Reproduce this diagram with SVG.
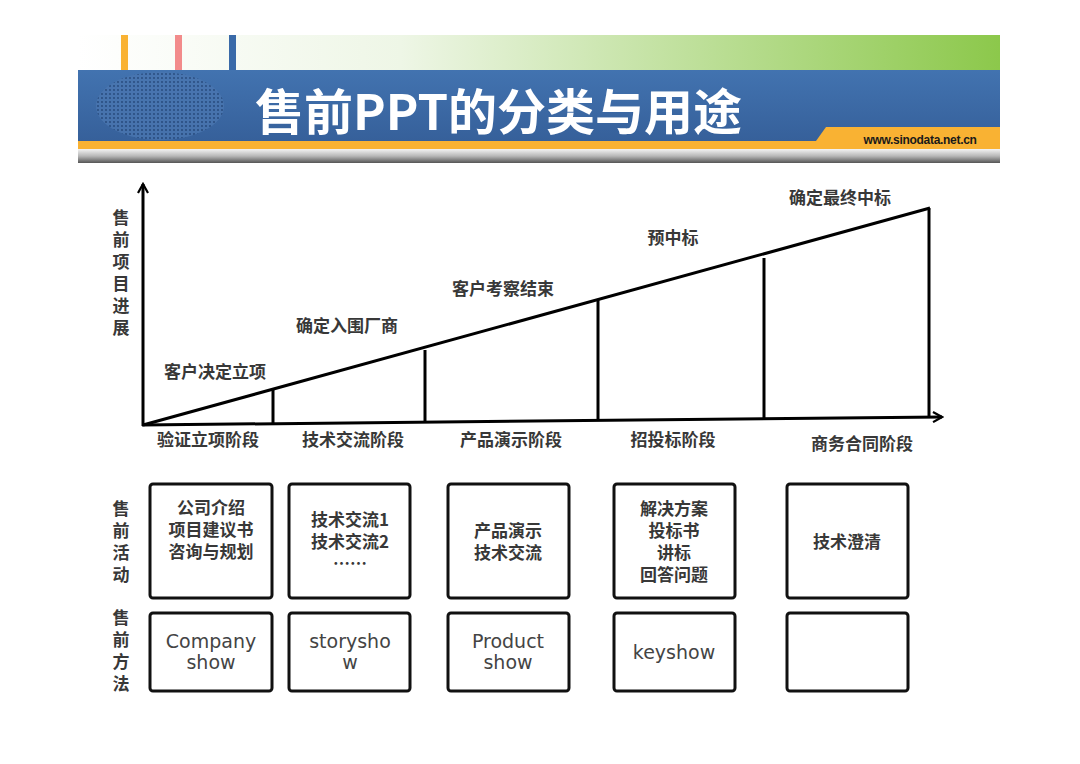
<svg xmlns="http://www.w3.org/2000/svg" width="1080" height="764" viewBox="0 0 1080 764">
<defs>
<linearGradient id="topg" x1="0" y1="0" x2="1" y2="0">
<stop offset="0" stop-color="#ffffff"/>
<stop offset="0.35" stop-color="#eef6e6"/>
<stop offset="1" stop-color="#8cc84b"/>
</linearGradient>
<linearGradient id="blueg" x1="0" y1="0" x2="0" y2="1">
<stop offset="0" stop-color="#4273b0"/>
<stop offset="1" stop-color="#36609a"/>
</linearGradient>
<linearGradient id="grayg" x1="0" y1="0" x2="0" y2="1">
<stop offset="0" stop-color="#f4f4f4"/>
<stop offset="0.5" stop-color="#b8b8b8"/>
<stop offset="1" stop-color="#555555"/>
</linearGradient>
<pattern id="dots" width="4" height="4" patternUnits="userSpaceOnUse">
<rect width="4" height="4" fill="#4a76b0"/>
<circle cx="2" cy="2" r="0.9" fill="#1f3f6e"/>
</pattern>
<marker id="arr" viewBox="0 0 12 12" refX="10" refY="6" markerWidth="12" markerHeight="12" markerUnits="userSpaceOnUse" orient="auto">
<path d="M1,1 L10,6 L1,11" fill="none" stroke="#000" stroke-width="2.2"/>
</marker>
<style>
.cn{font-family:"Noto Sans CJK SC","Noto Sans",sans-serif;font-weight:bold;fill:#383838;font-size:17px;text-anchor:middle}
.vt{font-family:"Noto Sans CJK SC","Noto Sans",sans-serif;font-weight:bold;fill:#383838;font-size:17px;writing-mode:tb;letter-spacing:5px}
.en{font-family:"DejaVu Sans","Noto Sans",sans-serif;fill:#444;font-size:19px;text-anchor:middle}
.box{fill:#fff;stroke:#111;stroke-width:3}
.ln{stroke:#000;stroke-width:3;fill:none}
</style>
</defs>
<rect width="1080" height="764" fill="#fff"/>
<g id="header">
<rect x="78" y="35" width="922" height="35" fill="url(#topg)"/>
<rect x="121" y="35" width="7" height="35" fill="#f9b233"/>
<rect x="175" y="35" width="7" height="35" fill="#f28b8b"/>
<rect x="229" y="35" width="7" height="35" fill="#3a6aa8"/>
<rect x="78" y="70" width="922" height="71" fill="url(#blueg)"/>
<ellipse cx="160" cy="106" rx="64" ry="34" fill="url(#dots)" opacity="0.8"/>
<rect x="78" y="141" width="922" height="8" fill="#f9b233"/>
<polygon points="811,148 826,127 1000,127 1000,148" fill="#f9b233"/>
<rect x="78" y="149" width="922" height="14" fill="url(#grayg)"/>
<text x="255" y="130" font-family="Noto Sans CJK SC,sans-serif" font-size="49" font-weight="bold" fill="#fff">售前PPT的分类与用途</text>
<text x="920" y="144" font-family="Liberation Sans,Arial,sans-serif" font-size="12" font-weight="bold" fill="#1a1a1a" text-anchor="middle" letter-spacing="-0.3">www.sinodata.net.cn</text>
</g>
<g id="connectors">
<line class="ln" x1="143" y1="426" x2="143" y2="184" marker-end="url(#arr)"/>
<line class="ln" x1="142" y1="425" x2="942" y2="417" marker-end="url(#arr)"/>
<line class="ln" x1="143" y1="425" x2="930" y2="208"/>
<line class="ln" x1="273" y1="390" x2="273" y2="424"/>
<line class="ln" x1="425" y1="350" x2="425" y2="423"/>
<line class="ln" x1="598" y1="299" x2="598" y2="419"/>
<line class="ln" x1="764" y1="258" x2="764" y2="418"/>
<line class="ln" x1="929" y1="208" x2="929" y2="418"/>
</g>
<g id="axis-label">
<text class="vt" x="121" y="209">售前项目进展</text>
</g>
<g id="milestones">
<text class="cn" x="215" y="378">客户决定立项</text>
<text class="cn" x="347" y="332">确定入围厂商</text>
<text class="cn" x="503" y="295">客户考察结束</text>
<text class="cn" x="673" y="244">预中标</text>
<text class="cn" x="840" y="204">确定最终中标</text>
</g>
<g id="stages">
<text class="cn" x="208" y="446">验证立项阶段</text>
<text class="cn" x="353" y="446">技术交流阶段</text>
<text class="cn" x="511" y="446">产品演示阶段</text>
<text class="cn" x="673" y="446">招投标阶段</text>
<text class="cn" x="862" y="450">商务合同阶段</text>
</g>
<g id="row-labels">
<text class="vt" x="121" y="500">售前活动</text>
<text class="vt" x="121" y="609">售前方法</text>
</g>
<g id="act1"><rect class="box" x="150" y="484" width="122" height="114" rx="3"/>
<text class="cn" x="211" y="514">公司介绍<tspan x="211" dy="22">项目建议书</tspan><tspan x="211" dy="22">咨询与规划</tspan></text></g>
<g id="act2"><rect class="box" x="289" y="484" width="121" height="114" rx="3"/>
<text class="cn" x="350" y="526">技术交流1<tspan x="350" dy="22">技术交流2</tspan><tspan x="350" dy="22">……</tspan></text></g>
<g id="act3"><rect class="box" x="448" y="484" width="121" height="114" rx="3"/>
<text class="cn" x="508" y="537">产品演示<tspan x="508" dy="22">技术交流</tspan></text></g>
<g id="act4"><rect class="box" x="614" y="484" width="121" height="114" rx="3"/>
<text class="cn" x="674" y="515">解决方案<tspan x="674" dy="22">投标书</tspan><tspan x="674" dy="22">讲标</tspan><tspan x="674" dy="22">回答问题</tspan></text></g>
<g id="act5"><rect class="box" x="787" y="484" width="121" height="114" rx="3"/>
<text class="cn" x="847" y="548">技术澄清</text></g>
<g id="m1"><rect class="box" x="150" y="613" width="122" height="78" rx="3"/>
<text class="en" x="211" y="648">Company<tspan x="211" dy="21">show</tspan></text></g>
<g id="m2"><rect class="box" x="289" y="613" width="121" height="78" rx="3"/>
<text class="en" x="350" y="648">storysho<tspan x="350" dy="21">w</tspan></text></g>
<g id="m3"><rect class="box" x="448" y="613" width="121" height="78" rx="3"/>
<text class="en" x="508" y="648">Product<tspan x="508" dy="21">show</tspan></text></g>
<g id="m4"><rect class="box" x="614" y="613" width="121" height="78" rx="3"/>
<text class="en" x="674" y="659">keyshow</text></g>
<g id="m5"><rect class="box" x="787" y="613" width="121" height="78" rx="3"/></g>
</svg>
